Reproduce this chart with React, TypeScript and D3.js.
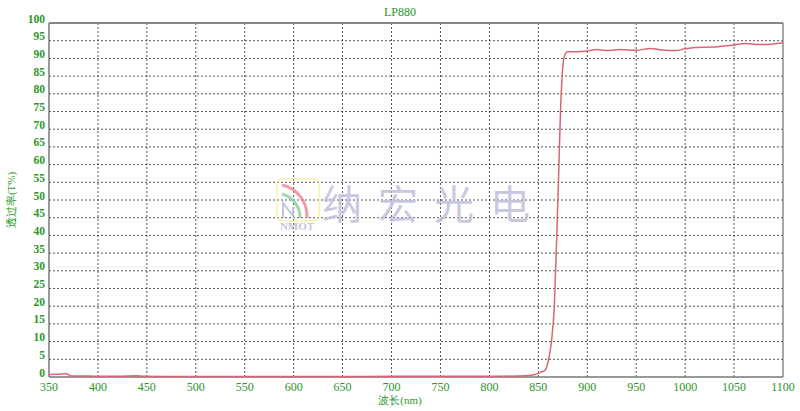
import React from "react";
import * as d3 from "d3";

const title = "LP880";
const xTitle = "波长(nm)";
const yTitle = "透过率(T%)";
const xTicks = [350, 400, 450, 500, 550, 600, 650, 700, 750, 800, 850, 900, 950, 1000, 1050, 1100];
const yTicks = [0, 5, 10, 15, 20, 25, 30, 35, 40, 45, 50, 55, 60, 65, 70, 75, 80, 85, 90, 95, 100];

const wavelengths = [
  350, 360, 368, 372, 380, 400, 420, 440, 446, 470, 500, 550, 600, 650, 700, 750, 800, 830, 840, 848,
  852, 857, 861, 863.6, 866.3, 868.7, 870.8, 872.8, 874.5, 876.5, 880, 890, 900, 910, 920, 933, 950,
  965, 976, 990, 1000, 1011, 1028, 1050, 1062, 1075, 1090, 1100,
];
const transmittance = [
  0.7, 0.8, 0.9, 0.3, 0.3, 0.2, 0.2, 0.35, 0.2, 0.15, 0.15, 0.15, 0.15, 0.15, 0.2, 0.2, 0.2, 0.3, 0.4, 0.8,
  1.3, 2.0, 5.7, 10.5, 19.9, 38.7, 57.5, 76.3, 85.8, 90.5, 91.9, 91.9, 92.1, 92.5, 92.2, 92.5, 92.3,
  92.8, 92.4, 92.2, 92.7, 93.1, 93.2, 93.8, 94.2, 93.9, 94.1, 94.4,
];

const W = 800;
const H = 411;
const left = 49;
const right = 783;
const top = 23;
const bottom = 377;

export default function App() {
  const x = d3.scaleLinear().domain([350, 1100]).range([left, right]);
  const y = d3.scaleLinear().domain([0, 100]).range([bottom, top]);
  const pts: [number, number][] = wavelengths.map((w, i) => [w, transmittance[i]]);
  const line = d3
    .line<[number, number]>()
    .x((d) => x(d[0]))
    .y((d) => y(d[1]))
    .curve(d3.curveMonotoneX);
  const green = "#2a962a";
  const font = "'Liberation Serif', 'DejaVu Serif', serif";
  return (
    <div style={{ position: "absolute", left: 0, top: 0 }}>
      <svg width={W} height={H} style={{ display: "block", background: "#fff" }}>
        {/* grid */}
        {xTicks.slice(1, -1).map((t) => (
          <line key={"gx" + t} x1={x(t)} x2={x(t)} y1={top} y2={bottom} stroke="#555" strokeWidth={1} strokeDasharray="2,2" />
        ))}
        {yTicks.slice(1, -1).map((t) => (
          <line key={"gy" + t} x1={left} x2={right} y1={y(t)} y2={y(t)} stroke="#555" strokeWidth={1} strokeDasharray="2,2" />
        ))}
        {/* watermark */}
        <g opacity={0.85}>
          <rect x={277} y={179} width={42} height={42} rx={5} fill="none" stroke="#f6f0a0" strokeWidth={1.5} />
          <path d="M282,185 A32,32 0 0 1 307,218" fill="none" stroke="#f08a9a" strokeWidth={3} />
          <path d="M282,194 A24,24 0 0 1 300,218" fill="none" stroke="#8fd09f" strokeWidth={3} />
          <path d="M283,218 L283,203 L293,216 L293,207" fill="none" stroke="#b8bcd8" strokeWidth={2} />
          <text x={297} y={230} textAnchor="middle" fontFamily={font} fontWeight="bold" fontSize={11} fill="#b9bcd4">NMOT</text>
          <text x={322} y={219} fontFamily="'Noto Sans CJK SC', sans-serif" fontSize={40} fill="#bfc0dc" letterSpacing={16}>纳宏光电</text>
        </g>
        {/* axes / border */}
        <line x1={left} x2={right} y1={top} y2={top} stroke="#888" strokeWidth={2} />
        <line x1={right} x2={right} y1={top} y2={bottom} stroke="#888" strokeWidth={1.5} />
        <line x1={left} x2={left} y1={top} y2={bottom} stroke="#777" strokeWidth={1.5} />
        <line x1={left} x2={right} y1={bottom} y2={bottom} stroke="#777" strokeWidth={1.5} />
        {/* curve */}
        <path d={line(pts) || ""} fill="none" stroke="#dc6470" strokeWidth={1.5} />
        {/* tick labels */}
        {xTicks.map((t) => (
          <text key={"tx" + t} x={x(t)} y={391} textAnchor="middle" fontFamily={font} fontSize={12} fill={green}>{t}</text>
        ))}
        {yTicks.map((t) => (
          <text key={"ty" + t} x={45} y={y(t) - 0.5} textAnchor="end" fontFamily={font} fontSize={11.5} fontWeight="bold" fill={green}>{t}</text>
        ))}
        <text x={400} y={16} textAnchor="middle" fontFamily={font} fontSize={12} fill={green}>{title}</text>
        <text x={400} y={404} textAnchor="middle" fontFamily={font} fontSize={11} fill={green}>{xTitle}</text>
        <text transform="translate(15,200) rotate(-90)" textAnchor="middle" fontFamily={font} fontSize={11} fill={green}>{yTitle}</text>
      </svg>
    </div>
  );
}
